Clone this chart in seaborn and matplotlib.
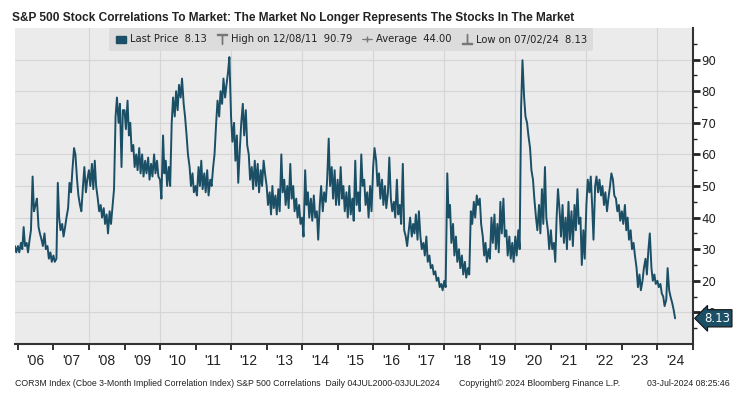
import matplotlib
matplotlib.use("Agg")
import matplotlib.pyplot as plt
import matplotlib.dates as mdates
import matplotlib.transforms as mtransforms
from matplotlib.lines import Line2D
from matplotlib.patches import Patch
import pandas as pd
import seaborn as sns

cor_2005 = [31, 29]
cor_2006 = [31, 29, 32, 30, 37, 31, 32, 29, 33, 36, 53, 42, 44, 46, 37, 35, 33, 31, 35, 30, 31, 27, 29, 26]
cor_2007 = [28, 26, 27, 51, 40, 36, 38, 34, 37, 40, 43, 51, 48, 55, 62, 60, 52, 47, 44, 42, 50, 56, 48, 52]
cor_2008 = [55, 50, 57, 49, 58, 50, 46, 42, 44, 40, 43, 38, 41, 35, 42, 38, 44, 49, 72, 78, 70, 76, 56, 74]
cor_2009 = [74, 68, 77, 66, 70, 61, 63, 56, 60, 55, 62, 54, 60, 53, 58, 54, 59, 52, 57, 53, 60, 54, 58, 53]
cor_2010 = [52, 46, 66, 54, 58, 50, 56, 50, 70, 78, 72, 80, 74, 82, 78, 84, 76, 72, 66, 60, 56, 50, 54, 48]
cor_2011 = [50, 47, 56, 50, 58, 49, 54, 48, 55, 47, 52, 50, 56, 60, 70, 77, 72, 80, 76, 84, 78, 82, 86, 90.79]
cor_2012 = [72, 64, 70, 58, 66, 51, 62, 70, 76, 66, 74, 63, 60, 52, 56, 49, 58, 50, 57, 48, 55, 50, 58, 54]
cor_2013 = [50, 44, 48, 41, 50, 43, 47, 41, 49, 42, 60, 48, 52, 44, 50, 43, 57, 46, 50, 42, 46, 40, 44, 38]
cor_2014 = [40, 34, 55, 44, 48, 40, 46, 39, 47, 40, 42, 33, 44, 50, 42, 48, 45, 52, 65, 50, 56, 46, 55, 44]
cor_2015 = [52, 44, 56, 46, 50, 42, 48, 40, 50, 41, 46, 39, 58, 44, 48, 42, 60, 50, 52, 44, 48, 40, 50, 42]
cor_2016 = [56, 62, 58, 50, 54, 46, 52, 44, 50, 43, 48, 59, 46, 42, 45, 40, 52, 41, 44, 38, 57, 36, 34, 31]
cor_2017 = [36, 40, 34, 38, 35, 41, 33, 42, 34, 30, 32, 28, 34, 26, 28, 24, 25, 22, 23, 20, 21, 18, 19, 17]
cor_2018 = [20, 18, 54, 40, 44, 32, 38, 28, 34, 26, 30, 24, 28, 22, 26, 21, 24, 22, 42, 38, 45, 40, 47, 44]
cor_2019 = [46, 38, 34, 28, 32, 26, 30, 27, 40, 32, 41, 30, 38, 29, 45, 35, 46, 34, 36, 28, 34, 27, 32, 26]
cor_2020 = [34, 28, 36, 30, 75, 89.8, 78, 72, 70, 66, 62, 55, 52, 46, 40, 36, 44, 35, 49, 38, 56, 40, 36, 30]
cor_2021 = [36, 30, 32, 26, 40, 49, 42, 34, 44, 32, 40, 30, 45, 33, 42, 31, 44, 36, 49, 38, 40, 25, 36, 27]
cor_2022 = [44, 52, 48, 53, 44, 33, 50, 53, 48, 52, 47, 50, 44, 48, 42, 46, 50, 54, 52, 47, 46, 42, 44, 39]
cor_2023 = [42, 38, 44, 36, 40, 33, 36, 30, 32, 28, 24, 18, 22, 17, 20, 24, 27, 22, 30, 35, 24, 20, 22, 19]
cor_2024 = [20, 18, 19, 16, 15, 12, 14, 24, 17, 15, 13, 11, 8.13]

# legend statistics (average covers the full 2000-2024 history)
last_price = 8.13
high_date, high_value = "12/08/11", 90.79
average_value = 44.00
low_date, low_value = "07/02/24", 8.13

y_ticks = [10, 20, 30, 40, 50, 60, 70, 80, 90]

values = (cor_2005 + cor_2006 + cor_2007 + cor_2008 + cor_2009 + cor_2010 + cor_2011
          + cor_2012 + cor_2013 + cor_2014 + cor_2015 + cor_2016 + cor_2017 + cor_2018
          + cor_2019 + cor_2020 + cor_2021 + cor_2022 + cor_2023 + cor_2024)
df = pd.DataFrame({
    "date": pd.date_range("2005-12-01", periods=len(values), freq="SMS"),
    "value": values,
})

teal = "#1b4f66"
narrow = ["Liberation Sans", "DejaVu Sans"]

sns.set_theme(style="white")
plt.rcParams["font.family"] = ["DejaVu Sans"]

fig = plt.figure(figsize=(7.36, 3.95), dpi=100)
ax = fig.add_axes([15 / 736, 51 / 395, 678 / 736, 316 / 395])
ax.set_facecolor("#ebebeb")

sns.lineplot(data=df, x="date", y="value", color=teal, linewidth=1.4, ax=ax)

ax.set_xlim(pd.Timestamp("2005-12-02"), pd.Timestamp("2025-01-01"))
ax.set_ylim(0, 100)
ax.set_xlabel("")
ax.set_ylabel("")

# grid: every 10 horizontally, every other year vertically
for v in y_ticks:
    ax.axhline(v, color="#d5d5d5", lw=0.8, zorder=0)
for yr in range(2008, 2025, 2):
    ax.axvline(pd.Timestamp(yr, 1, 1), color="#d5d5d5", lw=0.8, zorder=0)

for side in ["left", "top"]:
    ax.spines[side].set_visible(False)
ax.spines["right"].set_color("#333333")
ax.spines["right"].set_linewidth(1.5)
ax.spines["bottom"].set_color("#333333")
ax.spines["bottom"].set_linewidth(1.5)

# right-hand value axis
ax.yaxis.tick_right()
ax.set_yticks(y_ticks)
ax.set_yticks(range(5, 100, 10), minor=True)
ax.tick_params(axis="y", which="major", direction="out", length=5, width=2,
               color="#222222", labelsize=8.5, labelcolor="#222222", pad=1)
ax.tick_params(axis="y", which="minor", direction="out", length=3, width=1,
               color="#222222")

# year separators and year labels centred in each year
ax.xaxis.set_major_locator(mdates.YearLocator(1))
ax.xaxis.set_major_formatter(plt.NullFormatter())
ax.xaxis.set_minor_locator(mdates.YearLocator(1, month=7, day=1))
ax.xaxis.set_minor_formatter(mdates.DateFormatter("'%y"))
ax.tick_params(axis="x", which="major", direction="out", length=24, width=0.8,
               color="#c8c8c8")
ax.tick_params(axis="x", which="minor", length=0, pad=7, labelsize=10,
               labelcolor="#222222")
for lab in ax.get_xticklabels(minor=True):
    lab.set_family(narrow)

sec = ax.secondary_xaxis("bottom")
sec.xaxis.set_major_locator(mdates.YearLocator(1))
sec.xaxis.set_major_formatter(plt.NullFormatter())
sec.tick_params(axis="x", direction="out", length=4, width=1.3, color="#222222")
sec.spines["bottom"].set_visible(False)

# last value tag on the right axis
trans = mtransforms.blended_transform_factory(ax.transAxes, ax.transData)
ax.text(1.016, last_price, f"{last_price:.2f}", transform=trans, ha="left", va="center",
        color="white", fontsize=8.5, clip_on=False, zorder=10,
        bbox=dict(boxstyle="larrow,pad=0.18", fc=teal, ec="#111111", lw=0.8))

# legend strip
handles = [
    Patch(facecolor=teal, edgecolor=teal),
    Line2D([], [], marker="$\\top$", color="#777777", linestyle="none", markersize=7),
    Line2D([], [], marker="+", color="#777777", lw=0.8, markersize=5),
    Line2D([], [], marker="$\\bot$", color="#777777", linestyle="none", markersize=7),
]
labels = [
    f"Last Price  {last_price:.2f}",
    f"High on {high_date}  {high_value:.2f}",
    f"Average  {average_value:.2f}",
    f"Low on {low_date}  {low_value:.2f}",
]
leg = ax.legend(handles, labels, ncol=4, loc="upper center", bbox_to_anchor=(0.496, 1.0),
                borderaxespad=0, frameon=True, fancybox=True, facecolor="#dcdcdc",
                edgecolor="none", framealpha=1, fontsize=7.2, handlelength=1.0,
                handletextpad=0.4, columnspacing=1.0, borderpad=0.65)
for t in leg.get_texts():
    t.set_color("#222222")

fig.text(12 / 736, 1 - 18 / 395,
         "S&P 500 Stock Correlations To Market: The Market No Longer Represents The Stocks In The Market",
         fontsize=8.6, fontweight="bold", color="#222222", va="center", family=narrow)

foot = dict(fontsize=6.3, color="#222222", va="center", family=narrow)
fig.text(15 / 736, 1 - 383 / 395,
         "COR3M Index (Cboe 3-Month Implied Correlation Index) S&P 500 Correlations  Daily 04JUL2000-03JUL2024", **foot)
fig.text(459 / 736, 1 - 383 / 395, "Copyright\u00a9 2024 Bloomberg Finance L.P.", **foot)
fig.text(730 / 736, 1 - 383 / 395, "03-Jul-2024 08:25:46", ha="right", **foot)

fig.savefig("out.png", dpi=100)
